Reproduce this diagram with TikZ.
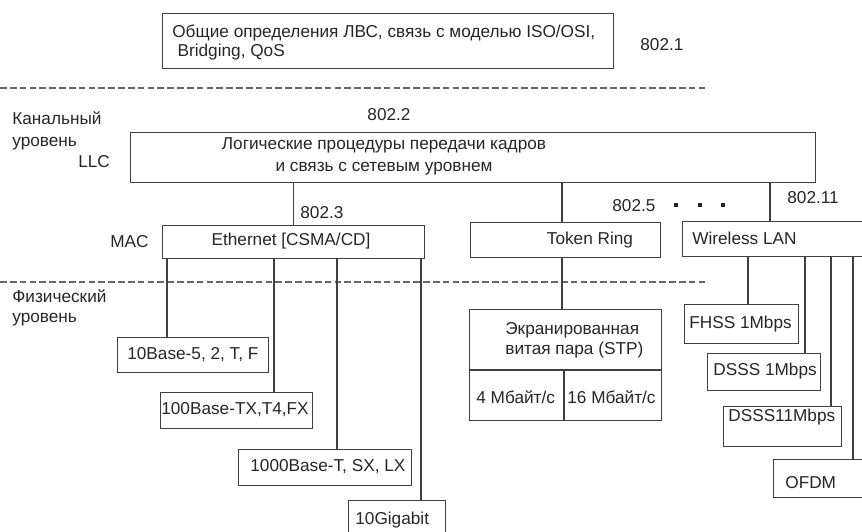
\documentclass[tikz,border=0pt]{standalone}
\usepackage{fontspec}
\setmainfont{Liberation Sans}
\begin{document}
\begin{tikzpicture}[x=0.02cm,y=-0.02cm,
  font=\fontsize{9.8}{11}\selectfont,
  blk/.style={draw=black!75, line width=0.6pt, rectangle, inner sep=0pt, anchor=north west},
  lnk/.style={draw=black!75, line width=0.6pt},
  lvl/.style={draw=black!60, line width=0.6pt, dash pattern=on 3.8pt off 1.8pt},
  lbl/.style={inner sep=0pt, anchor=west, align=left, text=black!85},
  ctr/.style={inner sep=0pt, align=center, text=black!85}]
\useasboundingbox (0,0) rectangle (862,531);
\clip (0,0) rectangle (862,531);

% levels
\draw[lvl] (0,88) -- (708,88);
\draw[lvl] (0,282) -- (705,282);
\node[lbl, font=\fontsize{9.8}{12.5}\selectfont] (kan) at (12,131) {Канальный\\уровень};
\node[lbl] (llclbl) at (78,162) {LLC};
\node[lbl] (maclbl) at (110,242) {MAC};
\node[lbl, font=\fontsize{9.8}{11.5}\selectfont] (fiz) at (12,308) {Физический\\уровень};

% 802.1
\node[blk, minimum width=9.02cm, minimum height=1.10cm] (gen) at (162,13) {};
\node[lbl, font=\fontsize{9.8}{10.8}\selectfont] (gentxt) at (172,42) {Общие определения ЛВС, связь с моделью ISO/OSI,\\\hspace*{3pt}Bridging, QoS};
\node[lbl] (n1) at (640,45) {802.1};

% 802.2
\node[ctr] (n2) at (389,115) {802.2};
\node[blk, minimum width=13.70cm, minimum height=1.00cm] (llc) at (130,132) {};
\node[ctr, font=\fontsize{9.8}{12.5}\selectfont] (llctxt) at (384,156) {Логические процедуры передачи кадров\\и связь с сетевым уровнем};

% MAC
\node[blk, minimum width=5.24cm, minimum height=0.66cm] (eth) at (162,225) {};
\node[ctr] (ethtxt) at (291,241) {Ethernet [CSMA/CD]};
\node[lbl] (n3) at (300,213) {802.3};
\node[blk, minimum width=3.80cm, minimum height=0.70cm] (tok) at (470,222) {};
\node[ctr] (toktxt) at (590,240) {Token Ring};
\node[lbl] (n5) at (612,206) {802.5};
\node[blk, minimum width=3.80cm, minimum height=0.70cm] (wlan) at (682,221) {};
\node[lbl] (wlantxt) at (692,238) {Wireless LAN};
\node[lbl] (n11) at (787,198) {802.11};
\foreach \x in {676,700,723}{
\fill[black!85] (\x-2,203) rectangle (\x+2,207);
}

\draw[lnk] (eth.north) -- (eth.north |- llc.south);
\draw[lnk] ([xshift=1.84cm]tok.north west) coordinate (t) -- (t |- llc.south);
\draw[lnk] ([xshift=1.76cm]wlan.north west) coordinate (t) -- (t |- llc.south);

% Ethernet
\node[blk, minimum width=3.02cm, minimum height=0.70cm] (b10) at (117,337) {};
\node[lbl] (b10txt) at (127,355) {10Base-5, 2, T, F};
\node[blk, minimum width=3.04cm, minimum height=0.72cm] (b100) at (160,392) {};
\node[lbl] (b100txt) at (161,410) {100Base-TX,T4,FX};
\node[blk, minimum width=3.46cm, minimum height=0.72cm] (b1000) at (238,449) {};
\node[lbl] (b1000txt) at (250,467) {1000Base-T, SX, LX};
\node[blk, minimum width=1.94cm, minimum height=0.90cm] (b10g) at (348,500) {};
\node[lbl] (b10gtxt) at (355,520) {10Gigabit};
\foreach \n/\d in {b10/1.0, b100/2.28, b1000/1.98, b10g/1.46}{
\draw[lnk] ([xshift=\d cm]\n.north west) coordinate (t) -- (t |- eth.south);
}

% Token Ring
\node[blk, minimum width=3.84cm, minimum height=2.22cm] (stp) at (469,309) {};
\node[lbl, font=\fontsize{9.8}{11.3}\selectfont] (stptxt) at (505,340) {Экранированная\\витая пара (STP)};
\draw[lnk] ([yshift=-1.22cm]stp.north west) -- ([yshift=-1.22cm]stp.north east);
\draw[lnk] ([xshift=1.9cm]stp.south west) -- ++(0,-50);
\node[lbl] (s4) at (476,397) {4 Мбайт/с};
\node[lbl] (s16) at (567,397) {16 Мбайт/с};
\draw[lnk] ([xshift=1.86cm]stp.north west) coordinate (t) -- (t |- tok.south);

% Wireless
\node[blk, minimum width=2.28cm, minimum height=0.78cm] (fhss) at (684,304) {};
\node[lbl] (fhsstxt) at (689,324) {FHSS 1Mbps};
\node[blk, minimum width=2.26cm, minimum height=0.74cm] (dsss1) at (707,353) {};
\node[lbl] (dsss1txt) at (713,371) {DSSS 1Mbps};
\node[blk, minimum width=2.36cm, minimum height=0.80cm] (dsss11) at (723,406) {};
\node[lbl] (dsss11txt) at (728,417) {DSSS11Mbps};
\node[blk, minimum width=1.98cm, minimum height=0.76cm] (ofdm) at (773,459) {};
\node[lbl] (ofdmtxt) at (785,483) {OFDM};
\foreach \n/\d in {fhss/1.28, dsss1/1.96, dsss11/2.16, ofdm/1.60}{
\draw[lnk] ([xshift=\d cm]\n.north west) coordinate (t) -- (t |- wlan.south);
}
\end{tikzpicture}
\end{document}
